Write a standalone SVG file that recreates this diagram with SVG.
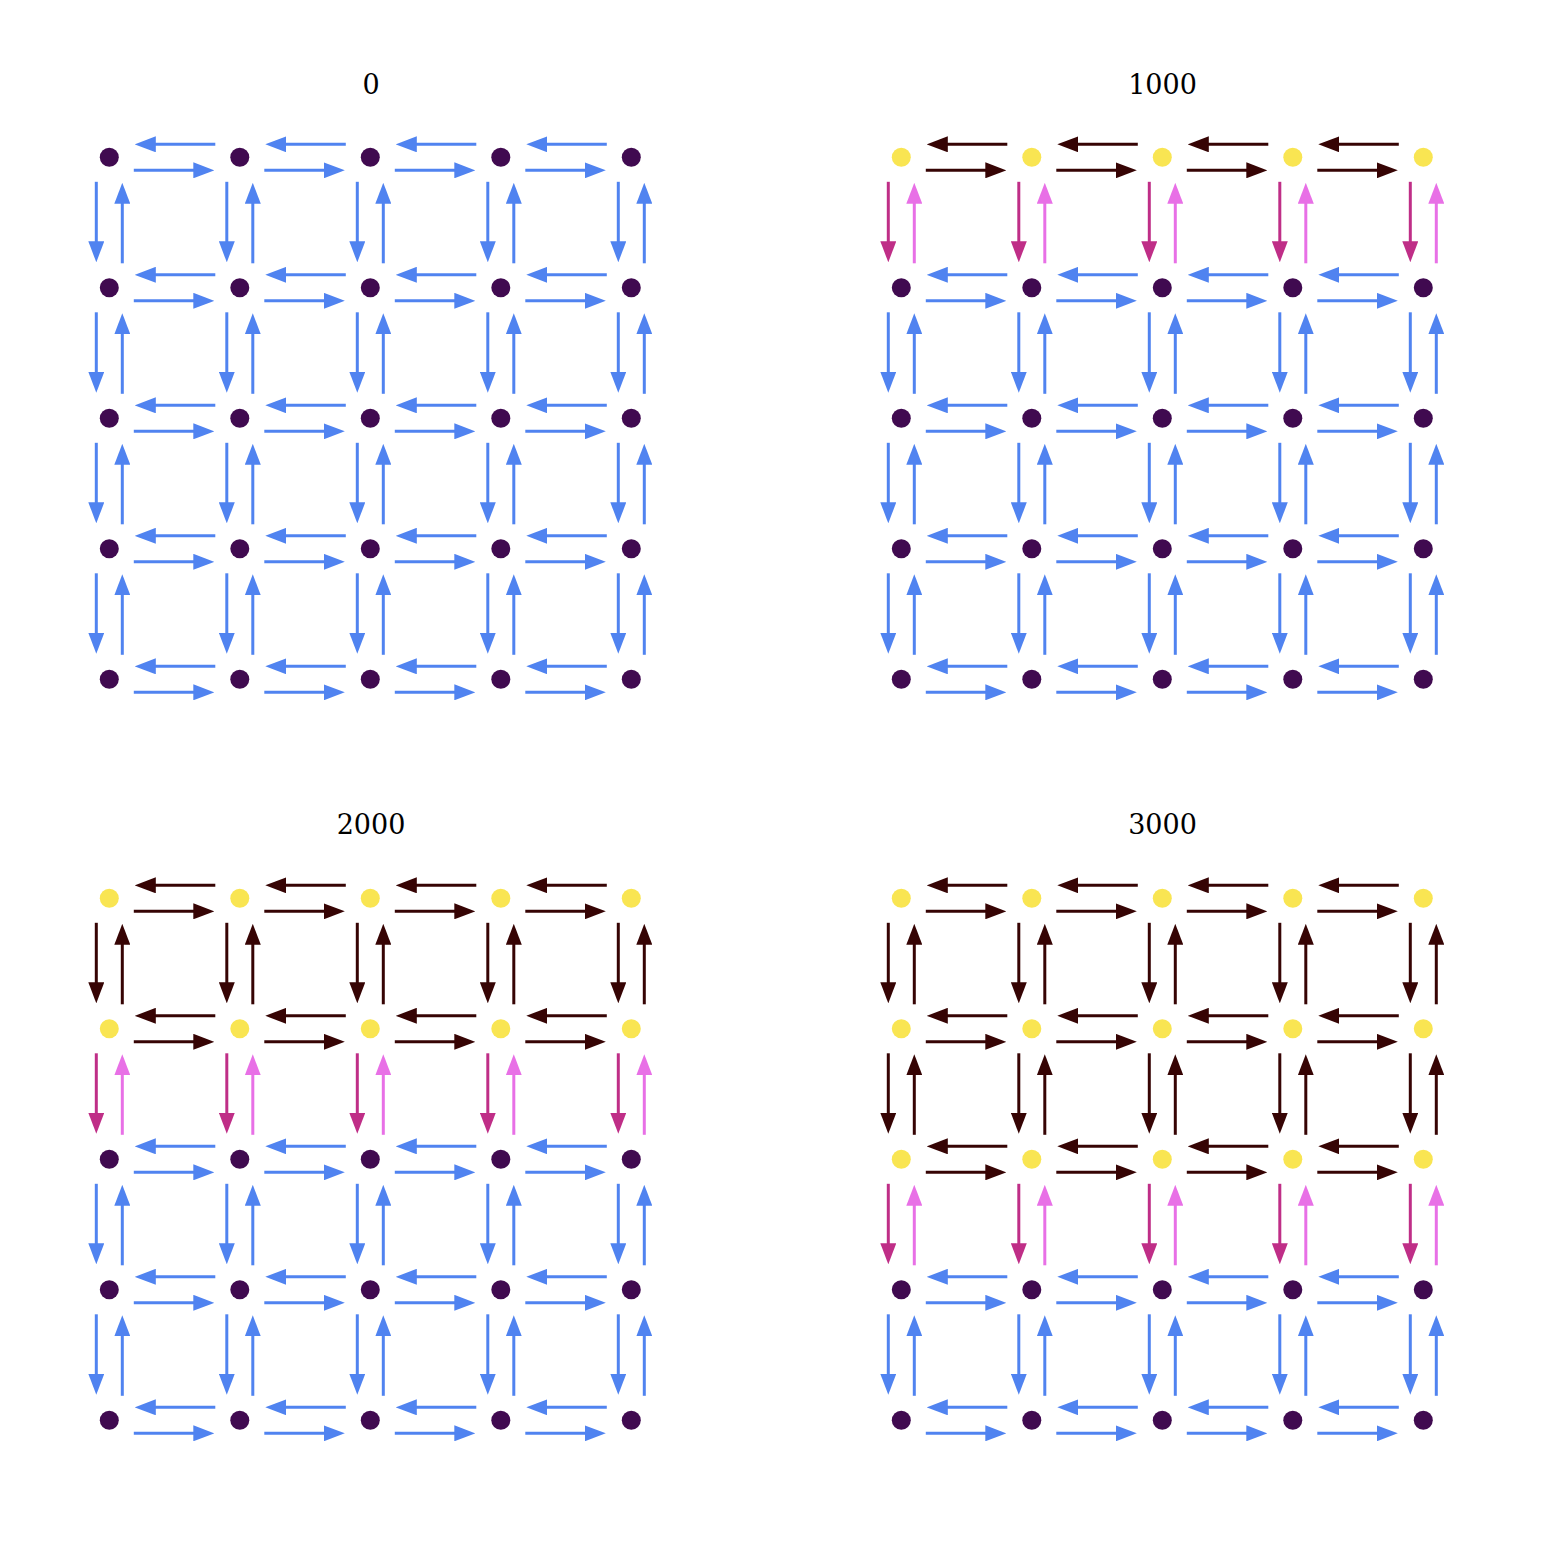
<svg xmlns="http://www.w3.org/2000/svg" width="1566" height="1542" viewBox="0 0 1566 1542">
<style>
.t{font-family:"DejaVu Serif","Liberation Serif",serif;font-size:27px;text-anchor:middle;fill:#000}
.conn path{fill:none;stroke-width:3}
.b path{stroke:#5083f0;marker-end:url(#mb)}
.k path{stroke:#360404;marker-end:url(#mk)}
.m path{stroke:#bf2e87;marker-end:url(#mm)}
.p path{stroke:#e870e6;marker-end:url(#mp)}
.nd{fill:#400a50}
.ny{fill:#f9e552}
</style>
<defs>
<marker id="mb" viewBox="0 0 21 16" markerWidth="21" markerHeight="16" refX="10" refY="8" orient="auto" markerUnits="userSpaceOnUse"><path d="M0,0L21,8L0,16z" fill="#5083f0"/></marker>
<marker id="mk" viewBox="0 0 21 16" markerWidth="21" markerHeight="16" refX="10" refY="8" orient="auto" markerUnits="userSpaceOnUse"><path d="M0,0L21,8L0,16z" fill="#360404"/></marker>
<marker id="mm" viewBox="0 0 21 16" markerWidth="21" markerHeight="16" refX="10" refY="8" orient="auto" markerUnits="userSpaceOnUse"><path d="M0,0L21,8L0,16z" fill="#bf2e87"/></marker>
<marker id="mp" viewBox="0 0 21 16" markerWidth="21" markerHeight="16" refX="10" refY="8" orient="auto" markerUnits="userSpaceOnUse"><path d="M0,0L21,8L0,16z" fill="#e870e6"/></marker>
</defs>
<rect width="1566" height="1542" fill="#fff"/>
<g id="titles">
<text class="t" x="371" y="94">0</text>
<text class="t" x="1162.5" y="94">1000</text>
<text class="t" x="371" y="834">2000</text>
<text class="t" x="1162.5" y="834">3000</text>
</g>
<g id="connectors" class="conn">
<!-- panel 0 -->
<g transform="translate(109.3,157.3)">
<g class="b"><path d="M106 -13H36.5"/><path d="M236.5 -13H167"/><path d="M367 -13H297.5"/><path d="M497.5 -13H428"/><path d="M24.5 13H94"/><path d="M155 13H224.5"/><path d="M285.5 13H355"/><path d="M416 13H485.5"/></g>
<g class="b"><path d="M106 117.5H36.5"/><path d="M236.5 117.5H167"/><path d="M367 117.5H297.5"/><path d="M497.5 117.5H428"/><path d="M24.5 143.5H94"/><path d="M155 143.5H224.5"/><path d="M285.5 143.5H355"/><path d="M416 143.5H485.5"/></g>
<g class="b"><path d="M106 248H36.5"/><path d="M236.5 248H167"/><path d="M367 248H297.5"/><path d="M497.5 248H428"/><path d="M24.5 274H94"/><path d="M155 274H224.5"/><path d="M285.5 274H355"/><path d="M416 274H485.5"/></g>
<g class="b"><path d="M106 378.5H36.5"/><path d="M236.5 378.5H167"/><path d="M367 378.5H297.5"/><path d="M497.5 378.5H428"/><path d="M24.5 404.5H94"/><path d="M155 404.5H224.5"/><path d="M285.5 404.5H355"/><path d="M416 404.5H485.5"/></g>
<g class="b"><path d="M106 509H36.5"/><path d="M236.5 509H167"/><path d="M367 509H297.5"/><path d="M497.5 509H428"/><path d="M24.5 535H94"/><path d="M155 535H224.5"/><path d="M285.5 535H355"/><path d="M416 535H485.5"/></g>
<g class="b"><path d="M-13 24.5V94"/><path d="M117.5 24.5V94"/><path d="M248 24.5V94"/><path d="M378.5 24.5V94"/><path d="M509 24.5V94"/><path d="M13 106V36.5"/><path d="M143.5 106V36.5"/><path d="M274 106V36.5"/><path d="M404.5 106V36.5"/><path d="M535 106V36.5"/></g>
<g class="b"><path d="M-13 155V224.5"/><path d="M117.5 155V224.5"/><path d="M248 155V224.5"/><path d="M378.5 155V224.5"/><path d="M509 155V224.5"/><path d="M13 236.5V167"/><path d="M143.5 236.5V167"/><path d="M274 236.5V167"/><path d="M404.5 236.5V167"/><path d="M535 236.5V167"/></g>
<g class="b"><path d="M-13 285.5V355"/><path d="M117.5 285.5V355"/><path d="M248 285.5V355"/><path d="M378.5 285.5V355"/><path d="M509 285.5V355"/><path d="M13 367V297.5"/><path d="M143.5 367V297.5"/><path d="M274 367V297.5"/><path d="M404.5 367V297.5"/><path d="M535 367V297.5"/></g>
<g class="b"><path d="M-13 416V485.5"/><path d="M117.5 416V485.5"/><path d="M248 416V485.5"/><path d="M378.5 416V485.5"/><path d="M509 416V485.5"/><path d="M13 497.5V428"/><path d="M143.5 497.5V428"/><path d="M274 497.5V428"/><path d="M404.5 497.5V428"/><path d="M535 497.5V428"/></g>
</g>
<!-- panel 1000 -->
<g transform="translate(901.3,157.3)">
<g class="k"><path d="M106 -13H36.5"/><path d="M236.5 -13H167"/><path d="M367 -13H297.5"/><path d="M497.5 -13H428"/><path d="M24.5 13H94"/><path d="M155 13H224.5"/><path d="M285.5 13H355"/><path d="M416 13H485.5"/></g>
<g class="b"><path d="M106 117.5H36.5"/><path d="M236.5 117.5H167"/><path d="M367 117.5H297.5"/><path d="M497.5 117.5H428"/><path d="M24.5 143.5H94"/><path d="M155 143.5H224.5"/><path d="M285.5 143.5H355"/><path d="M416 143.5H485.5"/></g>
<g class="b"><path d="M106 248H36.5"/><path d="M236.5 248H167"/><path d="M367 248H297.5"/><path d="M497.5 248H428"/><path d="M24.5 274H94"/><path d="M155 274H224.5"/><path d="M285.5 274H355"/><path d="M416 274H485.5"/></g>
<g class="b"><path d="M106 378.5H36.5"/><path d="M236.5 378.5H167"/><path d="M367 378.5H297.5"/><path d="M497.5 378.5H428"/><path d="M24.5 404.5H94"/><path d="M155 404.5H224.5"/><path d="M285.5 404.5H355"/><path d="M416 404.5H485.5"/></g>
<g class="b"><path d="M106 509H36.5"/><path d="M236.5 509H167"/><path d="M367 509H297.5"/><path d="M497.5 509H428"/><path d="M24.5 535H94"/><path d="M155 535H224.5"/><path d="M285.5 535H355"/><path d="M416 535H485.5"/></g>
<g class="m"><path d="M-13 24.5V94"/><path d="M117.5 24.5V94"/><path d="M248 24.5V94"/><path d="M378.5 24.5V94"/><path d="M509 24.5V94"/></g>
<g class="p"><path d="M13 106V36.5"/><path d="M143.5 106V36.5"/><path d="M274 106V36.5"/><path d="M404.5 106V36.5"/><path d="M535 106V36.5"/></g>
<g class="b"><path d="M-13 155V224.5"/><path d="M117.5 155V224.5"/><path d="M248 155V224.5"/><path d="M378.5 155V224.5"/><path d="M509 155V224.5"/><path d="M13 236.5V167"/><path d="M143.5 236.5V167"/><path d="M274 236.5V167"/><path d="M404.5 236.5V167"/><path d="M535 236.5V167"/></g>
<g class="b"><path d="M-13 285.5V355"/><path d="M117.5 285.5V355"/><path d="M248 285.5V355"/><path d="M378.5 285.5V355"/><path d="M509 285.5V355"/><path d="M13 367V297.5"/><path d="M143.5 367V297.5"/><path d="M274 367V297.5"/><path d="M404.5 367V297.5"/><path d="M535 367V297.5"/></g>
<g class="b"><path d="M-13 416V485.5"/><path d="M117.5 416V485.5"/><path d="M248 416V485.5"/><path d="M378.5 416V485.5"/><path d="M509 416V485.5"/><path d="M13 497.5V428"/><path d="M143.5 497.5V428"/><path d="M274 497.5V428"/><path d="M404.5 497.5V428"/><path d="M535 497.5V428"/></g>
</g>
<!-- panel 2000 -->
<g transform="translate(109.3,898.3)">
<g class="k"><path d="M106 -13H36.5"/><path d="M236.5 -13H167"/><path d="M367 -13H297.5"/><path d="M497.5 -13H428"/><path d="M24.5 13H94"/><path d="M155 13H224.5"/><path d="M285.5 13H355"/><path d="M416 13H485.5"/></g>
<g class="k"><path d="M106 117.5H36.5"/><path d="M236.5 117.5H167"/><path d="M367 117.5H297.5"/><path d="M497.5 117.5H428"/><path d="M24.5 143.5H94"/><path d="M155 143.5H224.5"/><path d="M285.5 143.5H355"/><path d="M416 143.5H485.5"/></g>
<g class="b"><path d="M106 248H36.5"/><path d="M236.5 248H167"/><path d="M367 248H297.5"/><path d="M497.5 248H428"/><path d="M24.5 274H94"/><path d="M155 274H224.5"/><path d="M285.5 274H355"/><path d="M416 274H485.5"/></g>
<g class="b"><path d="M106 378.5H36.5"/><path d="M236.5 378.5H167"/><path d="M367 378.5H297.5"/><path d="M497.5 378.5H428"/><path d="M24.5 404.5H94"/><path d="M155 404.5H224.5"/><path d="M285.5 404.5H355"/><path d="M416 404.5H485.5"/></g>
<g class="b"><path d="M106 509H36.5"/><path d="M236.5 509H167"/><path d="M367 509H297.5"/><path d="M497.5 509H428"/><path d="M24.5 535H94"/><path d="M155 535H224.5"/><path d="M285.5 535H355"/><path d="M416 535H485.5"/></g>
<g class="k"><path d="M-13 24.5V94"/><path d="M117.5 24.5V94"/><path d="M248 24.5V94"/><path d="M378.5 24.5V94"/><path d="M509 24.5V94"/><path d="M13 106V36.5"/><path d="M143.5 106V36.5"/><path d="M274 106V36.5"/><path d="M404.5 106V36.5"/><path d="M535 106V36.5"/></g>
<g class="m"><path d="M-13 155V224.5"/><path d="M117.5 155V224.5"/><path d="M248 155V224.5"/><path d="M378.5 155V224.5"/><path d="M509 155V224.5"/></g>
<g class="p"><path d="M13 236.5V167"/><path d="M143.5 236.5V167"/><path d="M274 236.5V167"/><path d="M404.5 236.5V167"/><path d="M535 236.5V167"/></g>
<g class="b"><path d="M-13 285.5V355"/><path d="M117.5 285.5V355"/><path d="M248 285.5V355"/><path d="M378.5 285.5V355"/><path d="M509 285.5V355"/><path d="M13 367V297.5"/><path d="M143.5 367V297.5"/><path d="M274 367V297.5"/><path d="M404.5 367V297.5"/><path d="M535 367V297.5"/></g>
<g class="b"><path d="M-13 416V485.5"/><path d="M117.5 416V485.5"/><path d="M248 416V485.5"/><path d="M378.5 416V485.5"/><path d="M509 416V485.5"/><path d="M13 497.5V428"/><path d="M143.5 497.5V428"/><path d="M274 497.5V428"/><path d="M404.5 497.5V428"/><path d="M535 497.5V428"/></g>
</g>
<!-- panel 3000 -->
<g transform="translate(901.3,898.3)">
<g class="k"><path d="M106 -13H36.5"/><path d="M236.5 -13H167"/><path d="M367 -13H297.5"/><path d="M497.5 -13H428"/><path d="M24.5 13H94"/><path d="M155 13H224.5"/><path d="M285.5 13H355"/><path d="M416 13H485.5"/></g>
<g class="k"><path d="M106 117.5H36.5"/><path d="M236.5 117.5H167"/><path d="M367 117.5H297.5"/><path d="M497.5 117.5H428"/><path d="M24.5 143.5H94"/><path d="M155 143.5H224.5"/><path d="M285.5 143.5H355"/><path d="M416 143.5H485.5"/></g>
<g class="k"><path d="M106 248H36.5"/><path d="M236.5 248H167"/><path d="M367 248H297.5"/><path d="M497.5 248H428"/><path d="M24.5 274H94"/><path d="M155 274H224.5"/><path d="M285.5 274H355"/><path d="M416 274H485.5"/></g>
<g class="b"><path d="M106 378.5H36.5"/><path d="M236.5 378.5H167"/><path d="M367 378.5H297.5"/><path d="M497.5 378.5H428"/><path d="M24.5 404.5H94"/><path d="M155 404.5H224.5"/><path d="M285.5 404.5H355"/><path d="M416 404.5H485.5"/></g>
<g class="b"><path d="M106 509H36.5"/><path d="M236.5 509H167"/><path d="M367 509H297.5"/><path d="M497.5 509H428"/><path d="M24.5 535H94"/><path d="M155 535H224.5"/><path d="M285.5 535H355"/><path d="M416 535H485.5"/></g>
<g class="k"><path d="M-13 24.5V94"/><path d="M117.5 24.5V94"/><path d="M248 24.5V94"/><path d="M378.5 24.5V94"/><path d="M509 24.5V94"/><path d="M13 106V36.5"/><path d="M143.5 106V36.5"/><path d="M274 106V36.5"/><path d="M404.5 106V36.5"/><path d="M535 106V36.5"/></g>
<g class="k"><path d="M-13 155V224.5"/><path d="M117.5 155V224.5"/><path d="M248 155V224.5"/><path d="M378.5 155V224.5"/><path d="M509 155V224.5"/><path d="M13 236.5V167"/><path d="M143.5 236.5V167"/><path d="M274 236.5V167"/><path d="M404.5 236.5V167"/><path d="M535 236.5V167"/></g>
<g class="m"><path d="M-13 285.5V355"/><path d="M117.5 285.5V355"/><path d="M248 285.5V355"/><path d="M378.5 285.5V355"/><path d="M509 285.5V355"/></g>
<g class="p"><path d="M13 367V297.5"/><path d="M143.5 367V297.5"/><path d="M274 367V297.5"/><path d="M404.5 367V297.5"/><path d="M535 367V297.5"/></g>
<g class="b"><path d="M-13 416V485.5"/><path d="M117.5 416V485.5"/><path d="M248 416V485.5"/><path d="M378.5 416V485.5"/><path d="M509 416V485.5"/><path d="M13 497.5V428"/><path d="M143.5 497.5V428"/><path d="M274 497.5V428"/><path d="M404.5 497.5V428"/><path d="M535 497.5V428"/></g>
</g>
</g>
<g id="nodes">
<g id="panel0-nodes" transform="translate(109.3,157.3)">
<g id="a00"><circle class="nd" cx="0" cy="0" r="9.5"/></g><g id="a01"><circle class="nd" cx="130.5" cy="0" r="9.5"/></g><g id="a02"><circle class="nd" cx="261" cy="0" r="9.5"/></g><g id="a03"><circle class="nd" cx="391.5" cy="0" r="9.5"/></g><g id="a04"><circle class="nd" cx="522" cy="0" r="9.5"/></g>
<g id="a10"><circle class="nd" cx="0" cy="130.5" r="9.5"/></g><g id="a11"><circle class="nd" cx="130.5" cy="130.5" r="9.5"/></g><g id="a12"><circle class="nd" cx="261" cy="130.5" r="9.5"/></g><g id="a13"><circle class="nd" cx="391.5" cy="130.5" r="9.5"/></g><g id="a14"><circle class="nd" cx="522" cy="130.5" r="9.5"/></g>
<g id="a20"><circle class="nd" cx="0" cy="261" r="9.5"/></g><g id="a21"><circle class="nd" cx="130.5" cy="261" r="9.5"/></g><g id="a22"><circle class="nd" cx="261" cy="261" r="9.5"/></g><g id="a23"><circle class="nd" cx="391.5" cy="261" r="9.5"/></g><g id="a24"><circle class="nd" cx="522" cy="261" r="9.5"/></g>
<g id="a30"><circle class="nd" cx="0" cy="391.5" r="9.5"/></g><g id="a31"><circle class="nd" cx="130.5" cy="391.5" r="9.5"/></g><g id="a32"><circle class="nd" cx="261" cy="391.5" r="9.5"/></g><g id="a33"><circle class="nd" cx="391.5" cy="391.5" r="9.5"/></g><g id="a34"><circle class="nd" cx="522" cy="391.5" r="9.5"/></g>
<g id="a40"><circle class="nd" cx="0" cy="522" r="9.5"/></g><g id="a41"><circle class="nd" cx="130.5" cy="522" r="9.5"/></g><g id="a42"><circle class="nd" cx="261" cy="522" r="9.5"/></g><g id="a43"><circle class="nd" cx="391.5" cy="522" r="9.5"/></g><g id="a44"><circle class="nd" cx="522" cy="522" r="9.5"/></g>
</g>
<g id="panel1000-nodes" transform="translate(901.3,157.3)">
<g id="b00"><circle class="ny" cx="0" cy="0" r="9.5"/></g><g id="b01"><circle class="ny" cx="130.5" cy="0" r="9.5"/></g><g id="b02"><circle class="ny" cx="261" cy="0" r="9.5"/></g><g id="b03"><circle class="ny" cx="391.5" cy="0" r="9.5"/></g><g id="b04"><circle class="ny" cx="522" cy="0" r="9.5"/></g>
<g id="b10"><circle class="nd" cx="0" cy="130.5" r="9.5"/></g><g id="b11"><circle class="nd" cx="130.5" cy="130.5" r="9.5"/></g><g id="b12"><circle class="nd" cx="261" cy="130.5" r="9.5"/></g><g id="b13"><circle class="nd" cx="391.5" cy="130.5" r="9.5"/></g><g id="b14"><circle class="nd" cx="522" cy="130.5" r="9.5"/></g>
<g id="b20"><circle class="nd" cx="0" cy="261" r="9.5"/></g><g id="b21"><circle class="nd" cx="130.5" cy="261" r="9.5"/></g><g id="b22"><circle class="nd" cx="261" cy="261" r="9.5"/></g><g id="b23"><circle class="nd" cx="391.5" cy="261" r="9.5"/></g><g id="b24"><circle class="nd" cx="522" cy="261" r="9.5"/></g>
<g id="b30"><circle class="nd" cx="0" cy="391.5" r="9.5"/></g><g id="b31"><circle class="nd" cx="130.5" cy="391.5" r="9.5"/></g><g id="b32"><circle class="nd" cx="261" cy="391.5" r="9.5"/></g><g id="b33"><circle class="nd" cx="391.5" cy="391.5" r="9.5"/></g><g id="b34"><circle class="nd" cx="522" cy="391.5" r="9.5"/></g>
<g id="b40"><circle class="nd" cx="0" cy="522" r="9.5"/></g><g id="b41"><circle class="nd" cx="130.5" cy="522" r="9.5"/></g><g id="b42"><circle class="nd" cx="261" cy="522" r="9.5"/></g><g id="b43"><circle class="nd" cx="391.5" cy="522" r="9.5"/></g><g id="b44"><circle class="nd" cx="522" cy="522" r="9.5"/></g>
</g>
<g id="panel2000-nodes" transform="translate(109.3,898.3)">
<g id="c00"><circle class="ny" cx="0" cy="0" r="9.5"/></g><g id="c01"><circle class="ny" cx="130.5" cy="0" r="9.5"/></g><g id="c02"><circle class="ny" cx="261" cy="0" r="9.5"/></g><g id="c03"><circle class="ny" cx="391.5" cy="0" r="9.5"/></g><g id="c04"><circle class="ny" cx="522" cy="0" r="9.5"/></g>
<g id="c10"><circle class="ny" cx="0" cy="130.5" r="9.5"/></g><g id="c11"><circle class="ny" cx="130.5" cy="130.5" r="9.5"/></g><g id="c12"><circle class="ny" cx="261" cy="130.5" r="9.5"/></g><g id="c13"><circle class="ny" cx="391.5" cy="130.5" r="9.5"/></g><g id="c14"><circle class="ny" cx="522" cy="130.5" r="9.5"/></g>
<g id="c20"><circle class="nd" cx="0" cy="261" r="9.5"/></g><g id="c21"><circle class="nd" cx="130.5" cy="261" r="9.5"/></g><g id="c22"><circle class="nd" cx="261" cy="261" r="9.5"/></g><g id="c23"><circle class="nd" cx="391.5" cy="261" r="9.5"/></g><g id="c24"><circle class="nd" cx="522" cy="261" r="9.5"/></g>
<g id="c30"><circle class="nd" cx="0" cy="391.5" r="9.5"/></g><g id="c31"><circle class="nd" cx="130.5" cy="391.5" r="9.5"/></g><g id="c32"><circle class="nd" cx="261" cy="391.5" r="9.5"/></g><g id="c33"><circle class="nd" cx="391.5" cy="391.5" r="9.5"/></g><g id="c34"><circle class="nd" cx="522" cy="391.5" r="9.5"/></g>
<g id="c40"><circle class="nd" cx="0" cy="522" r="9.5"/></g><g id="c41"><circle class="nd" cx="130.5" cy="522" r="9.5"/></g><g id="c42"><circle class="nd" cx="261" cy="522" r="9.5"/></g><g id="c43"><circle class="nd" cx="391.5" cy="522" r="9.5"/></g><g id="c44"><circle class="nd" cx="522" cy="522" r="9.5"/></g>
</g>
<g id="panel3000-nodes" transform="translate(901.3,898.3)">
<g id="d00"><circle class="ny" cx="0" cy="0" r="9.5"/></g><g id="d01"><circle class="ny" cx="130.5" cy="0" r="9.5"/></g><g id="d02"><circle class="ny" cx="261" cy="0" r="9.5"/></g><g id="d03"><circle class="ny" cx="391.5" cy="0" r="9.5"/></g><g id="d04"><circle class="ny" cx="522" cy="0" r="9.5"/></g>
<g id="d10"><circle class="ny" cx="0" cy="130.5" r="9.5"/></g><g id="d11"><circle class="ny" cx="130.5" cy="130.5" r="9.5"/></g><g id="d12"><circle class="ny" cx="261" cy="130.5" r="9.5"/></g><g id="d13"><circle class="ny" cx="391.5" cy="130.5" r="9.5"/></g><g id="d14"><circle class="ny" cx="522" cy="130.5" r="9.5"/></g>
<g id="d20"><circle class="ny" cx="0" cy="261" r="9.5"/></g><g id="d21"><circle class="ny" cx="130.5" cy="261" r="9.5"/></g><g id="d22"><circle class="ny" cx="261" cy="261" r="9.5"/></g><g id="d23"><circle class="ny" cx="391.5" cy="261" r="9.5"/></g><g id="d24"><circle class="ny" cx="522" cy="261" r="9.5"/></g>
<g id="d30"><circle class="nd" cx="0" cy="391.5" r="9.5"/></g><g id="d31"><circle class="nd" cx="130.5" cy="391.5" r="9.5"/></g><g id="d32"><circle class="nd" cx="261" cy="391.5" r="9.5"/></g><g id="d33"><circle class="nd" cx="391.5" cy="391.5" r="9.5"/></g><g id="d34"><circle class="nd" cx="522" cy="391.5" r="9.5"/></g>
<g id="d40"><circle class="nd" cx="0" cy="522" r="9.5"/></g><g id="d41"><circle class="nd" cx="130.5" cy="522" r="9.5"/></g><g id="d42"><circle class="nd" cx="261" cy="522" r="9.5"/></g><g id="d43"><circle class="nd" cx="391.5" cy="522" r="9.5"/></g><g id="d44"><circle class="nd" cx="522" cy="522" r="9.5"/></g>
</g>
</g>
</svg>
